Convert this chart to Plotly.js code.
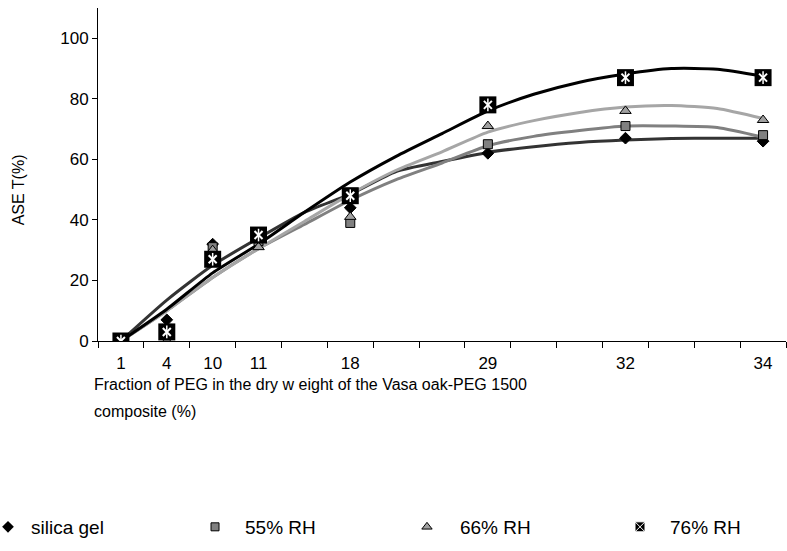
<!DOCTYPE html>
<html>
<head>
<meta charset="utf-8">
<script src="https://cdn.plot.ly/plotly-3.0.1.min.js"></script>
<style>html,body{margin:0;padding:0;background:#fff;}#chart{width:787px;height:551px;}</style>
</head>
<body>
<div id="chart"></div>
<script>
// Category axis of the original chart (blank slots have no label)
const categories = ['1','4','10','11','','18','','','29','','','32','','','34'];
// Measured points
const measuredAt = ['1','4','10','11','18','29','32','34'];
const silicaGel = [0, 7, 32, 34, 44, 62, 67, 66];
const rh55 = [0, 4, 31, 33, 39, 65, 71, 68];
const rh66 = [0, 0, 30, 31, 41, 71, 76, 73];
const rh76 = [0, 3, 27, 35, 48, 78, 87, 87];
// Trend lines read at every category slot
const silicaTrend = [0, 13.5, 25, 34, 42.5, 48.5, 56, 59.3, 62.3, 64.2, 65.6, 66.4, 66.9, 67, 67];
const rh55Trend = [0, 10, 21, 30.5, 38.5, 46.5, 53.3, 58.8, 64.5, 67.6, 69.5, 71, 71, 70.5, 67.3];
const rh66Trend = [0, 10, 21, 30.5, 39.5, 48.5, 56.4, 62.5, 69, 72.8, 75.5, 77.3, 77.8, 76.8, 73.5];
const rh76Trend = [0, 10.5, 22.5, 32, 42.5, 52.5, 61, 68.5, 76, 81.5, 85.5, 88.2, 90, 89.8, 87.5];
const seriesNames = ['silica gel', '55% RH', '66% RH', '76% RH'];

const slotX = categories.map((c, i) => i);
const pointX = measuredAt.map(c => categories.indexOf(c));
const FONT = 'Liberation Sans, Arial, sans-serif';

function trend(y, color) {
  return {x: slotX, y: y, mode: 'lines', line: {color: color, width: 3, shape: 'spline', smoothing: 0.6},
          showlegend: false, hoverinfo: 'skip'};
}
function pts(y, name, marker) {
  return {x: pointX, y: y, name: name, mode: 'markers', marker: marker, showlegend: false};
}
function legendOnly(name, marker, legendId) {
  return {x: [null], y: [null], name: name, mode: 'markers', marker: marker, showlegend: true, legend: legendId};
}

const mSilica = {symbol: 'diamond', size: 9, color: '#000000', line: {color: '#000', width: 1}};
const m55 = {symbol: 'square', size: 9, color: '#808080', line: {color: '#000', width: 1}};
const m66 = {symbol: 'triangle-up', size: 10, color: '#a0a0a0', line: {color: '#000', width: 1}};
const m76 = {symbol: 'square', size: 17, color: '#000000', line: {color: '#000', width: 0}};
const m76x = {symbol: 'x-thin-open', size: 8, color: '#ffffff', line: {color: '#ffffff', width: 2}};
const m76bar = {symbol: 'line-ns-open', size: 9, color: '#ffffff', line: {color: '#ffffff', width: 1.5}};

const data = [
  trend(silicaTrend, '#333333'),
  trend(rh55Trend, '#808080'),
  trend(rh66Trend, '#a6a6a6'),
  trend(rh76Trend, '#000000'),
  pts(silicaGel, seriesNames[0], mSilica),
  pts(rh55, seriesNames[1], m55),
  pts(rh66, seriesNames[2], m66),
  pts(rh76, seriesNames[3], m76),
  pts(rh76, seriesNames[3], m76x),
  pts(rh76, seriesNames[3], m76bar),
  legendOnly(seriesNames[0], {symbol: 'diamond', size: 9, color: '#000'}, 'legend'),
  legendOnly(seriesNames[1], {symbol: 'square', size: 8, color: '#808080', line: {color: '#000', width: 1}}, 'legend2'),
  legendOnly(seriesNames[2], {symbol: 'triangle-up', size: 9, color: '#a0a0a0', line: {color: '#000', width: 1}}, 'legend3'),
  legendOnly(seriesNames[3], {symbol: 'square-x', size: 10, color: '#000', line: {color: '#fff', width: 1}}, 'legend4')
];

function legendBox(x, itemwidth, indentation) {
  return {orientation: 'h', xref: 'container', yref: 'container', x: x, y: 0.0436,
          xanchor: 'left', yanchor: 'middle', itemwidth: itemwidth, indentation: indentation,
          font: {family: FONT, size: 19, color: '#000'}, bgcolor: 'rgba(0,0,0,0)', borderwidth: 0};
}

const layout = {
  width: 787, height: 551,
  margin: {l: 98, r: 1, t: 8, b: 210},
  paper_bgcolor: '#fff', plot_bgcolor: '#fff',
  font: {family: FONT, size: 16, color: '#000'},
  showlegend: true,
  legend: legendBox(0, 36, -15),
  legend2: legendBox(0.2351, 50, 0),
  legend3: legendBox(0.5006, 56, 0),
  legend4: legendBox(0.7751, 50, 0),
  xaxis: {
    range: [-0.5, 14.5], tickmode: 'array', tickvals: slotX, ticktext: categories,
    ticks: '', ticklabelstandoff: 7, showgrid: false, zeroline: false,
    showline: true, linecolor: '#000', linewidth: 1,
    minor: {tickmode: 'linear', tick0: -0.5, dtick: 1, ticks: 'outside', ticklen: 6, tickcolor: '#000', tickwidth: 1, showgrid: false},
    tickfont: {family: FONT, size: 17, color: '#000'}
  },
  yaxis: {
    range: [0, 110], tickmode: 'array', tickvals: [0, 20, 40, 60, 80, 100],
    ticks: 'outside', ticklen: 5, tickcolor: '#000', showgrid: false, zeroline: false,
    showline: true, linecolor: '#000', linewidth: 1,
    tickfont: {family: FONT, size: 17, color: '#000'}
  },
  annotations: [
    {text: 'ASE T(%)', xref: 'paper', yref: 'paper', x: -0.116, y: 0.453, textangle: -90,
     showarrow: false, xanchor: 'center', yanchor: 'middle', font: {family: FONT, size: 16, color: '#000'}},
    {text: 'Fraction of PEG in the dry w eight of the Vasa oak-PEG 1500', xref: 'paper', yref: 'paper',
     x: -0.0085, y: -0.13, xanchor: 'left', yanchor: 'middle', showarrow: false, align: 'left',
     font: {family: FONT, size: 16, color: '#000'}},
    {text: 'composite (%)', xref: 'paper', yref: 'paper',
     x: -0.0085, y: -0.211, xanchor: 'left', yanchor: 'middle', showarrow: false, align: 'left',
     font: {family: FONT, size: 16, color: '#000'}}
  ]
};

Plotly.newPlot('chart', data, layout, {displayModeBar: false, staticPlot: true});
</script>
</body>
</html>
